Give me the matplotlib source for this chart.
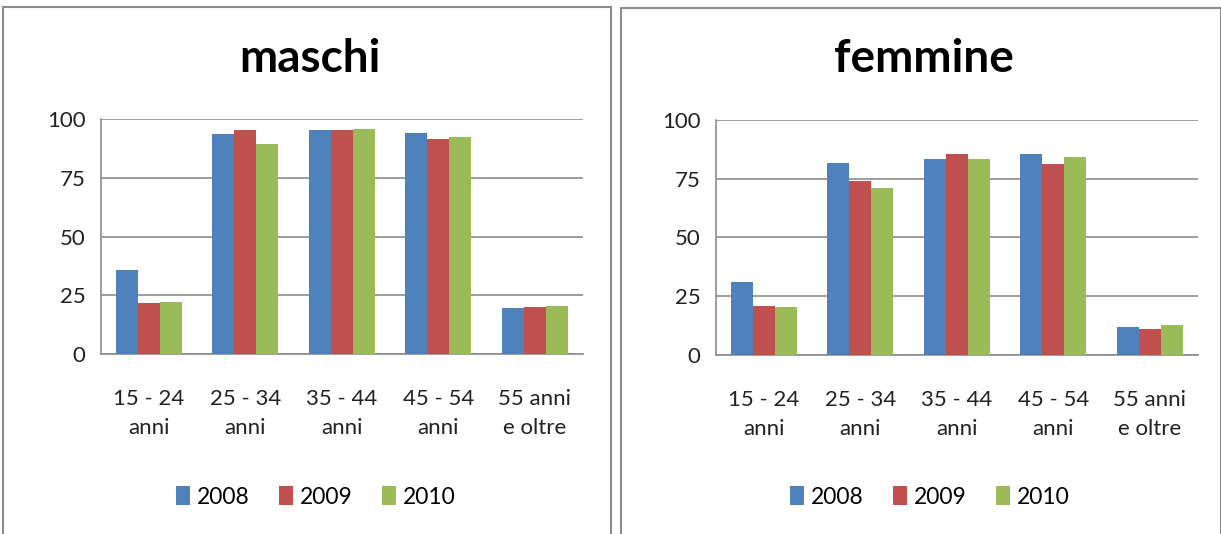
import matplotlib
matplotlib.use("Agg")
import matplotlib.pyplot as plt
from matplotlib.patches import Rectangle
import numpy as np

plt.rcParams['font.family'] = ['Lato', 'DejaVu Sans']

categories = ["15 - 24\nanni", "25 - 34\nanni", "35 - 44\nanni", "45 - 54\nanni", "55 anni\ne oltre"]
years = ["2008", "2009", "2010"]
maschi = {
    "2008": [35.8, 93.8, 95.5, 94.3, 19.5],
    "2009": [21.6, 95.5, 95.5, 91.5, 20.0],
    "2010": [22.2, 89.3, 95.9, 92.6, 20.5],
}
femmine = {
    "2008": [30.9, 81.7, 83.3, 85.5, 11.8],
    "2009": [21.0, 74.0, 85.5, 81.1, 11.2],
    "2010": [20.4, 71.2, 83.3, 84.3, 12.8],
}
titles = ["maschi", "femmine"]
yticks = [0, 25, 50, 75, 100]
colors = ["#4F81BD", "#C0504D", "#9BBB59"]

W, H = 1221, 534
fig = plt.figure(figsize=(W / 100, H / 100), dpi=100)

def px_rect(x0, y0, x1, y1):
    return [x0 / W, 1 - y1 / H, (x1 - x0) / W, (y1 - y0) / H]

# panel borders
for (x0, y0, x1, y1) in [(3, 7, 611, 540), (621, 8, 1221, 540)]:
    fig.patches.append(Rectangle((x0 / W, 1 - y1 / H), (x1 - x0) / W, (y1 - y0) / H,
                                 transform=fig.transFigure, fill=False,
                                 edgecolor="#8C8C8C", linewidth=1.5))

plot_areas = [(100.7, 119.3, 583, 354), (715.7, 120, 1198, 355)]
title_x = [310, 924]
legend_x = [316, 930]
datasets = [maschi, femmine]

bw = 0.228
for i in range(2):
    ax = fig.add_axes(px_rect(*plot_areas[i]))
    data = datasets[i]
    x = np.arange(len(categories))
    for j, yr in enumerate(years):
        ax.bar(x + (j - 1) * bw, data[yr], width=bw, color=colors[j], label=yr,
               edgecolor="none", zorder=3)
    ax.set_xlim(-0.5, len(categories) - 0.5)
    ax.set_ylim(0, 100)
    ax.set_yticks(yticks)
    ax.set_yticklabels([str(t) for t in yticks], fontsize=16, color="#222222")
    ax.set_xticks(x)
    ax.set_xticklabels(categories, fontsize=16, color="#222222", linespacing=1.6)
    ax.tick_params(axis="both", length=0)
    ax.tick_params(axis="y", pad=11)
    ax.tick_params(axis="x", pad=25)
    ax.grid(axis="y", color="#8C8C8C", linewidth=1.2, zorder=0)
    for s in ["top", "right"]:
        ax.spines[s].set_visible(False)
    for s in ["left", "bottom"]:
        ax.spines[s].set_color("#8C8C8C")
        ax.spines[s].set_linewidth(1.2)
    fig.text(title_x[i] / W, 1 - 59 / H, titles[i], fontsize=33, fontweight="bold",
             ha="center", va="center", color="black")
    handles, labels = ax.get_legend_handles_labels()
    fig.legend(handles, labels, loc="center", bbox_to_anchor=(legend_x[i] / W, 1 - 497 / H),
               ncol=3, frameon=False, fontsize=16.5, handlelength=0.6, handleheight=0.9,
               handletextpad=0.3, columnspacing=1.3)

fig.savefig("out.png", dpi=100)
